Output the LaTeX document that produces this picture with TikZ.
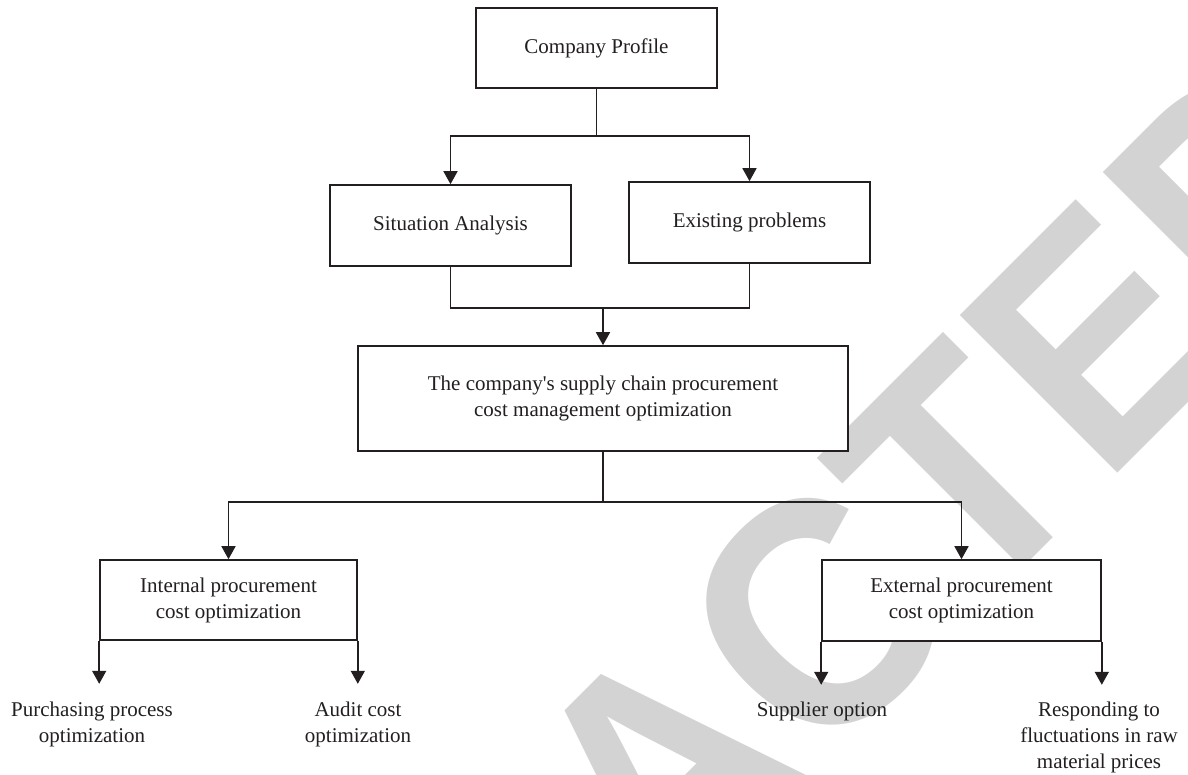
\documentclass[tikz,border=0pt]{standalone}
\usepackage{fontspec}
\setmainfont{Liberation Serif}
\newfontfamily\wmfont{Liberation Sans}[FakeStretch=0.935]
\usetikzlibrary{arrows.meta,calc}
\definecolor{ink}{RGB}{35,31,32}
\definecolor{wm}{RGB}{211,211,211}
\begin{document}
\begin{tikzpicture}[x=0.5pt,y=-0.5pt,
  box/.style={draw=ink,line width=0.8pt,fill=white,inner sep=0pt,align=center,text=ink,font=\fontsize{10.5pt}{13pt}\selectfont},
  lbl/.style={inner sep=0pt,align=center,text=ink,font=\fontsize{10.5pt}{13pt}\selectfont,anchor=north},
  conn/.style={draw=ink,line width=0.8pt},
  arr/.style={conn,-{Triangle[width=7pt,length=6.5pt]}}]
\useasboundingbox (0,0) rectangle (1188,775);
\begin{scope}
\clip (0,0) rectangle (1188,775);
\node[rotate=45,anchor=base west,inner sep=0pt,text=wm,font=\wmfont\bfseries\fontsize{162pt}{162pt}\selectfont] (wmark) at (80,1511) {RETRACTED};
\end{scope}
% boxes
\node[box,minimum width=120.5pt,minimum height=40pt] (cp) at (596.5,48) {Company Profile};
\node[box,minimum width=120.5pt,minimum height=40.5pt] (sa) at (450.5,225.5) {Situation Analysis};
\node[box,minimum width=120.5pt,minimum height=40.5pt] (ep) at (749.5,222.5) {Existing problems};
\node[box,minimum width=245pt,minimum height=52.5pt] (mn) at (603,398.5) {The company\textquotesingle s supply chain procurement\\cost management optimization};
\node[box,minimum width=128.5pt,minimum height=40pt] (ip) at (228.5,600) {Internal procurement\\cost optimization};
\node[box,minimum width=139.5pt,minimum height=40.5pt] (xp) at (961.5,600.5) {External procurement\\cost optimization};
% bottom labels
\node[lbl] (t1) at (92,702) {Purchasing process\\optimization};
\node[lbl] (t2) at (358,702) {Audit cost\\optimization};
\node[lbl] (t3) at (822,702) {Supplier option};
\node[lbl] (t4) at (1099,702) {Responding to\\fluctuations in raw\\material prices};
% helper coordinates
\coordinate (j1) at ($(cp.south)+(0,47)$);
\coordinate (h2) at (0,308);
\coordinate (h3) at (0,502);
\coordinate (j2) at (mn.north |- h2);
\coordinate (j3) at (mn.south |- h3);
\coordinate (e1) at ($(ip.south west)+(0,43)$);
\coordinate (e2) at ($(ip.south east)+(0,43)$);
\coordinate (e3) at ($(xp.south west)+(0,43)$);
\coordinate (e4) at ($(xp.south east)+(0,43)$);
% connectors
\draw[conn] (cp.south) -- (j1);
\draw[arr] (j1) -| (sa.north);
\draw[arr] (j1) -| (ep.north);
\draw[conn] (sa.south) |- (j2) -| (ep.south);
\draw[arr] (j2) -- (mn.north);
\draw[conn] (mn.south) -- (j3);
\draw[arr] (j3) -| (ip.north);
\draw[arr] (j3) -| (xp.north);
\draw[arr] (ip.south west) -- (e1);
\draw[arr] (ip.south east) -- (e2);
\draw[arr] (xp.south west) -- (e3);
\draw[arr] (xp.south east) -- (e4);
\end{tikzpicture}
\end{document}
